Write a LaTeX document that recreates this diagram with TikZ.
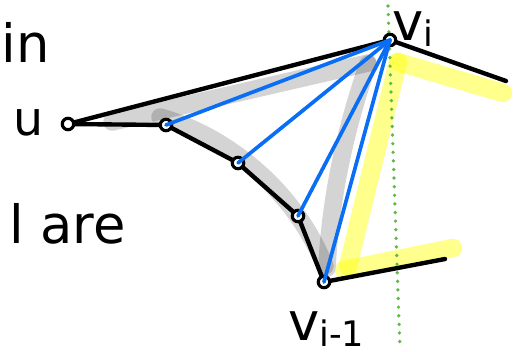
\documentclass[tikz,border=0pt]{standalone}
\usepackage{fontspec}
\setmainfont{DejaVu Sans}
\usetikzlibrary{positioning}
\definecolor{hullblue}{RGB}{10,110,245}
\definecolor{markyellow}{RGB}{255,255,0}
\definecolor{dotgreen}{RGB}{95,185,70}
\newcommand{\lowsub}[1]{\raisebox{-3.5pt}{\fontsize{20}{20}\selectfont #1}}

\begin{document}
\begin{tikzpicture}[
  x=0.02cm, y=-0.02cm,
  vtx/.style={circle, draw, line width=1.8pt, fill=white, inner sep=0pt, minimum size=6.5pt},
  edge/.style={line width=2.5pt, line cap=round},
  tri/.style={hullblue, line width=2.1pt, line cap=round},
  shade/.style={black, opacity=0.17, line width=10pt, line cap=round, line join=round},
  hilite/.style={markyellow, opacity=0.45, line width=10.5pt, line cap=round},
  sweep/.style={dotgreen, line width=2.1pt, line cap=round, dash pattern=on 0pt off 4.9pt},
  hand/.style={inner sep=0pt, font=\fontsize{30}{30}\selectfont}
]
\useasboundingbox (0,0) rectangle (522,352);
% Polygon vertices
\coordinate (u) at (68,124);
\coordinate (p1) at (166,125);
\coordinate (p2) at (238,163);
\coordinate (p3) at (298,216);
\coordinate (vj) at (324,282);
\coordinate (vi) at (390,40);
\coordinate (tailvi) at (506,81);
\coordinate (tailvj) at (445,259);
% Grey strokes inside the fan
\draw[shade] (112,122) -- (368,63);
\draw[shade] (160,117) .. controls (215,132) and (290,180) .. (325,266);
\draw[shade] (368,64) .. controls (345,130) and (330,200) .. (327,268);
% Yellow marker
\draw[hilite] (503,93) -- (398,62);
\draw[hilite] (398,62) -- (348,266);
\draw[hilite] (344,270) -- (453,248);
% Sweep line
\draw[sweep] (388,6) -- (400,350);
% Black chain
\draw[edge] (u) -- (vi) -- (tailvi);
\draw[edge] (u) -- (p1) -- (p2) -- (p3) -- (vj) -- (tailvj);
% Vertices
\node[vtx] (nu) at (u) {};
\node[vtx] (np1) at (p1) {};
\node[vtx] (np2) at (p2) {};
\node[vtx] (np3) at (p3) {};
\node[vtx] (nvj) at (vj) {};
\node[vtx] (nvi) at (vi) {};
% Fan of diagonals
\foreach \t in {np1,np2,np3,nvj}
  \draw[tri] (nvi.center) -- (\t.center);
% Labels
\node[hand, anchor=base east] (wordin) at (50,62) {in};
\node[hand, font=\fontsize{27}{27}\selectfont, anchor=base] (lblu) at (29,135) {u};
\node[hand, font=\fontsize{30}{30}\selectfont, anchor=base east] (wordare) at (126,243) {l are};
\node[hand, anchor=base west] (lblvi) at (392,40) {v\lowsub{i}};
\node[hand, anchor=base west] (lblvj) at (288,340) {v\lowsub{i-1}};
\end{tikzpicture}
\end{document}
